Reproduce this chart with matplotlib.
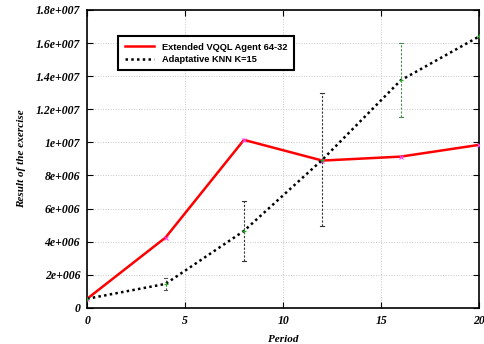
import matplotlib.pyplot as plt
from matplotlib.lines import Line2D

periods = [0, 4, 8, 12, 16, 20]
vqql = [0.55e6, 4.25e6, 10.15e6, 8.9e6, 9.14e6, 9.85e6]
knn = [0.55e6, 1.45e6, 4.65e6, 8.95e6, 13.75e6, 16.4e6]
knn_low = [0.55e6, 1.09e6, 2.86e6, 4.97e6, 11.52e6, 16.4e6]
knn_high = [0.55e6, 1.79e6, 6.48e6, 13.0e6, 16.03e6, 16.4e6]
err_colors = ["#333333", "#555555", "#333333", "#333333", "#4a8a4a", "#333333"]

serif = {"family": "Liberation Serif", "weight": "bold", "style": "italic"}

fig = plt.figure(figsize=(4.84, 3.44), dpi=100)
ax = fig.add_axes([0.18, 0.105, 0.81, 0.866])

# error bars for the KNN series
for x, lo, hi, c in zip(periods, knn_low, knn_high, err_colors):
    if hi - lo > 0:
        ax.plot([x, x], [lo, hi], color=c, lw=0.8, ls=(0, (2, 1.5)), zorder=2)
        ax.plot([x - 0.1, x + 0.1], [lo, lo], color=c, lw=0.8, zorder=2)
        ax.plot([x - 0.1, x + 0.1], [hi, hi], color=c, lw=0.8, zorder=2)

ax.plot(periods, vqql, color="#ff0000", lw=1.8,
        marker="x", ms=3, mec="#ff44ff", mew=0.8, zorder=3)
ax.plot(periods, knn, color="black", lw=1.8, ls=(0, (1, 1.3)),
        marker="+", ms=3, mec="#22aa22", mew=0.8, zorder=3)

ax.set_xlim(0, 20)
ax.set_ylim(0, 1.8e7)
ax.set_xticks([0, 5, 10, 15, 20])
yt = [i * 2e6 for i in range(10)]
ax.set_yticks(yt)
ax.set_yticklabels(["0", "2e+006", "4e+006", "6e+006", "8e+006", "1e+007",
                    "1.2e+007", "1.4e+007", "1.6e+007", "1.8e+007"])
for lab in ax.get_xticklabels() + ax.get_yticklabels():
    lab.set_fontfamily(serif["family"])
    lab.set_fontweight("bold")
    lab.set_fontstyle("italic")
    lab.set_fontsize(8.5)
ax.tick_params(direction="in", top=True, right=True, length=4, width=0.8, pad=5)
ax.grid(True, color="#c8c8c8", ls=":", lw=0.7)
for s in ax.spines.values():
    s.set_linewidth(1.2)

ax.set_xlabel("Period", fontdict=serif, fontsize=8, labelpad=6)
ax.set_ylabel("Result of the exercise", fontdict=serif, fontsize=8)
ax.yaxis.set_label_coords(-0.155, 0.5)

handles = [Line2D([], [], color="#ff0000", lw=1.8),
           Line2D([], [], color="black", lw=1.8, ls=(0, (1, 1.3)))]
leg = ax.legend(handles, ["Extended VQQL Agent 64-32", "Adaptative KNN K=15"],
                loc="upper left", bbox_to_anchor=(0.067, 0.928), fancybox=False,
                framealpha=1, edgecolor="black", handlelength=3.2,
                borderpad=0.7, labelspacing=0.35,
                prop={"family": "Liberation Sans", "weight": "bold", "size": 6.7})
leg.get_frame().set_linewidth(1.5)

fig.savefig("out.png", dpi=100)
